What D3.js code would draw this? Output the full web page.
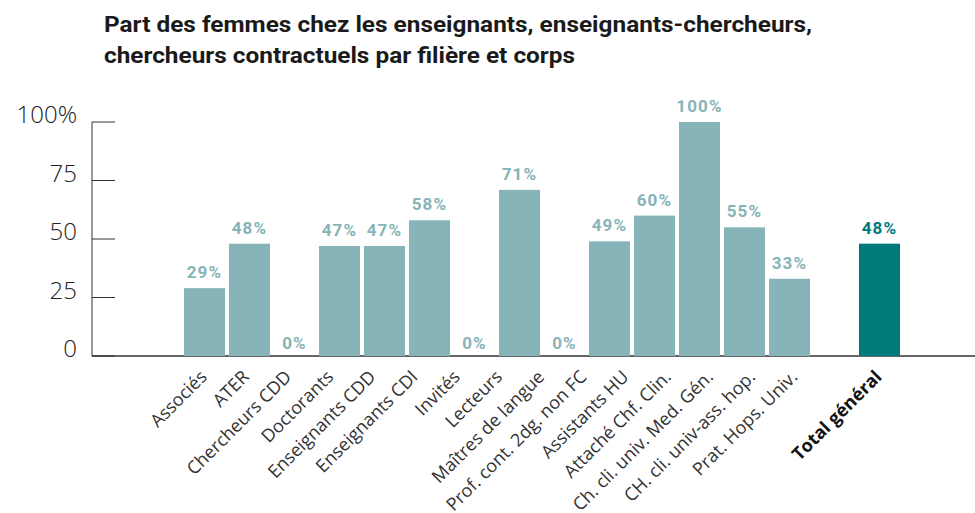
<!DOCTYPE html>
<html lang="fr">
<head>
  <meta charset="UTF-8">
  <title>Part des femmes</title>
  <script src="https://cdn.jsdelivr.net/npm/d3@7/dist/d3.min.js"></script>
  <style>
    body { margin: 0; background: #fff; }
    svg { display: block; }
  </style>
</head>
<body>
  <div id="chart"></div>
  <script>
    // labels under the axis (the source has one more label than bars)
    const categories = [
      'Associés', 'ATER', 'Chercheurs CDD', 'Doctorants', 'Enseignants CDD',
      'Enseignants CDI', 'Invités', 'Lecteurs', 'Maîtres de langue',
      'Prof. cont. 2dg. non FC', 'Assistants HU', 'Attaché Chf. Clin.',
      'Ch. cli. univ. Med. Gén.', 'CH. cli. univ-ass. hop.', 'Prat. Hops. Univ.'
    ];
    const values = [29, 48, 0, 47, 47, 58, 0, 71, 0, 49, 60, 100, 55, 33];
    const totalLabel = 'Total général';
    const totalValue = 48;
    const yTicks = [0, 25, 50, 75, 100];
    const titleLines = [
      'Part des femmes chez les enseignants, enseignants-chercheurs,',
      'chercheurs contractuels par filière et corps'
    ];

    const width = 975, height = 513;
    const svg = d3.select('#chart').append('svg')
      .attr('width', width)
      .attr('height', height);

    // title
    const titleW = [708, 471];
    titleLines.forEach((t, i) => {
      svg.append('text')
        .attr('x', 104)
        .attr('y', 32 + i * 31)
        .attr('font-family', 'Roboto, sans-serif')
        .attr('font-weight', 700)
        .attr('font-size', 22)
        .attr('fill', '#1a1a1a')
        .attr('textLength', titleW[i])
        .attr('lengthAdjust', 'spacingAndGlyphs')
        .text(t);
    });

    const y = d3.scaleLinear().domain([0, 100]).range([356, 122]);

    // bars: 14 values, one empty slot, then the total
    const barData = values.map((v, i) => ({ key: 'b' + i, v, total: false }));
    barData.push({ key: 'gap', v: null });
    barData.push({ key: 'total', v: totalValue, total: true });

    const x = d3.scaleBand()
      .domain(barData.map(d => d.key))
      .range([184, 900])
      .paddingInner(0.089)
      .paddingOuter(0);

    // label positions, spaced a bit tighter than the bars
    const labelKeys = categories.concat(['', totalLabel]);
    const xl = d3.scalePoint()
      .domain(labelKeys.map((d, i) => i))
      .range([208, 883]);

    // y axis
    svg.append('line')
      .attr('x1', 92).attr('x2', 92)
      .attr('y1', y(100)).attr('y2', y(0))
      .attr('stroke', '#333').attr('stroke-width', 1);

    const ticks = svg.append('g');
    ticks.selectAll('line')
      .data(yTicks)
      .join('line')
      .attr('x1', 92).attr('x2', 115)
      .attr('y1', d => y(d)).attr('y2', d => y(d))
      .attr('stroke', '#333').attr('stroke-width', 1);
    ticks.selectAll('text')
      .data(yTicks)
      .join('text')
      .attr('x', 77)
      .attr('y', d => y(d) + 1)
      .attr('text-anchor', 'end')
      .attr('font-family', '"Open Sans", sans-serif')
      .attr('font-weight', 300)
      .attr('font-size', 24)
      .attr('fill', '#222')
      .text(d => d === 100 ? '100%' : d);

    // baseline
    svg.append('line')
      .attr('x1', 92).attr('x2', width)
      .attr('y1', y(0)).attr('y2', y(0))
      .attr('stroke', '#333').attr('stroke-width', 1.5);

    const shown = barData.filter(d => d.v !== null);

    svg.append('g')
      .selectAll('rect')
      .data(shown)
      .join('rect')
      .attr('x', d => x(d.key))
      .attr('width', x.bandwidth())
      .attr('y', d => y(d.v))
      .attr('height', d => y(0) - y(d.v))
      .attr('fill', d => d.total ? '#007a7b' : '#86b4b8');

    svg.append('g')
      .selectAll('text')
      .data(shown)
      .join('text')
      .attr('x', d => x(d.key) + x.bandwidth() / 2)
      .attr('y', d => y(d.v) - (d.v === 0 ? 7 : 10))
      .attr('text-anchor', 'middle')
      .attr('font-family', 'Roboto, sans-serif')
      .attr('font-weight', 700)
      .attr('font-size', 17)
      .attr('letter-spacing', 1.2)
      .attr('fill', d => d.total ? '#007a7b' : '#86b4b8')
      .text(d => d.v + '%');

    // rotated category labels
    svg.append('g')
      .selectAll('text')
      .data(labelKeys.map((t, i) => ({ t, i })).filter(d => d.t))
      .join('text')
      .attr('transform', d => `translate(${xl(d.i)},378) rotate(-45)`)
      .attr('text-anchor', 'end')
      .attr('font-family', '"Open Sans", sans-serif')
      .attr('font-weight', d => d.t === totalLabel ? 700 : 400)
      .attr('font-size', 18)
      .attr('fill', d => d.t === totalLabel ? '#111' : '#333')
      .text(d => d.t);
  </script>
</body>
</html>
